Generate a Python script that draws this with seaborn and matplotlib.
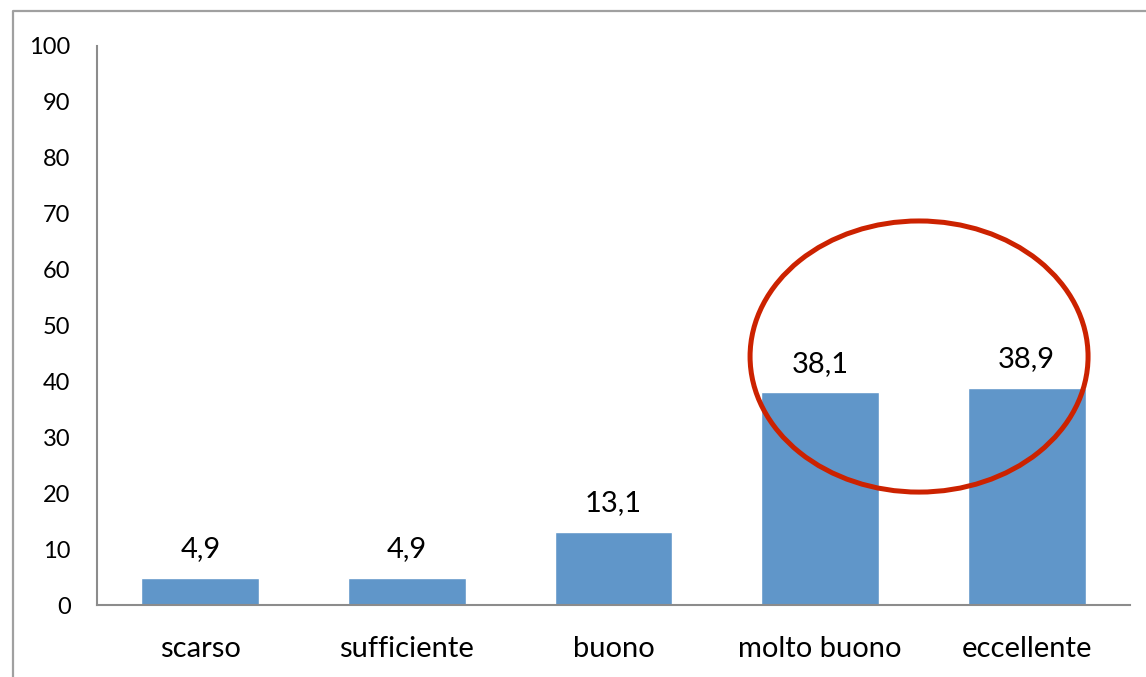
import matplotlib
matplotlib.use("Agg")
import matplotlib.pyplot as plt
from matplotlib.patches import Ellipse
from matplotlib.lines import Line2D
import seaborn as sns
import pandas as pd

categories = ["scarso", "sufficiente", "buono", "molto buono", "eccellente"]
values = [4.9, 4.9, 13.1, 38.1, 38.9]
y_ticks = [0, 10, 20, 30, 40, 50, 60, 70, 80, 90, 100]

sns.set_theme(style="white")
plt.rcParams["font.family"] = ["Lato", "DejaVu Sans"]

df = pd.DataFrame({"giudizio": categories, "percentuale": values})

fig = plt.figure(figsize=(11.46, 6.77), dpi=100)
ax = fig.add_axes([97 / 1146, 1 - 605 / 677, (1130 - 97) / 1146, (605 - 46) / 677])

sns.barplot(data=df, x="giudizio", y="percentuale", color="#6096C9",
            saturation=1, width=0.57, ax=ax)

ax.set_xlim(-0.5, 4.5)
ax.set_ylim(0, 100)
ax.set_yticks(y_ticks)
ax.set_yticklabels([str(t) for t in y_ticks])
ax.set_xlabel("")
ax.set_ylabel("")

for side in ("top", "right"):
    ax.spines[side].set_visible(False)
for side in ("left", "bottom"):
    ax.spines[side].set_color("#8C8C8C")
    ax.spines[side].set_linewidth(1.5)

ax.tick_params(axis="y", length=0, pad=19, labelsize=17, colors="black")
ax.tick_params(axis="x", length=0, pad=22.5, labelsize=21, colors="black")

# value labels above each bar
for i, v in enumerate(values):
    ax.annotate(f"{v:.1f}".replace(".", ","), (i, v), xytext=(0, 11),
                textcoords="offset points", ha="center", va="bottom",
                fontsize=21, color="black")

# highlight ring around the two top categories
ring = Ellipse((3.479, 44.45), width=1.636, height=48.5, fill=False,
               edgecolor="#CC2200", linewidth=3.6, clip_on=False, zorder=5)
ax.add_patch(ring)

# outer frame (left and top edges)
x0 = 13 / 1146
y0 = 1 - 11 / 677
fig.add_artist(Line2D([x0, x0, 1.0], [0.0, y0, y0], transform=fig.transFigure,
                      color="#A0A0A0", linewidth=1.6))

fig.savefig("out.png", dpi=100)
